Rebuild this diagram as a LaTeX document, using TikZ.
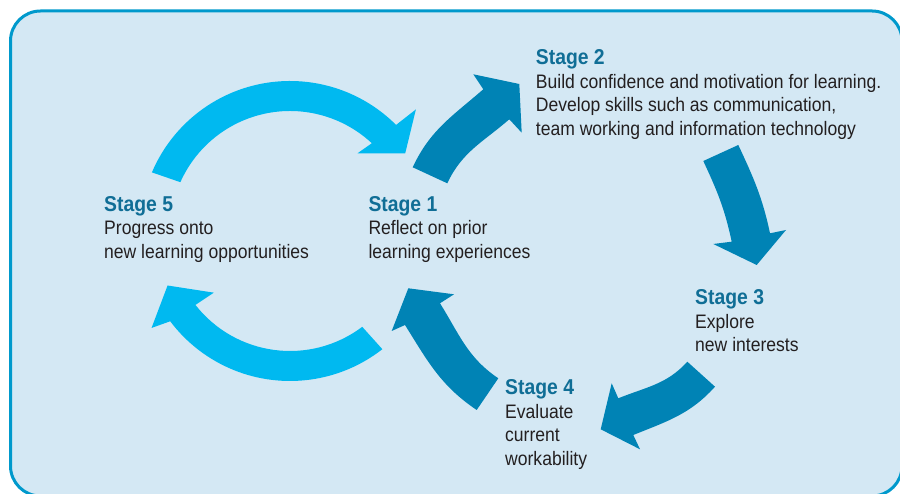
\documentclass[tikz,border=0pt]{standalone}
\usepackage{fontspec}
\setmainfont{Liberation Sans}[FakeStretch=0.9]
\usetikzlibrary{calc}

\definecolor{panelfill}{RGB}{212,232,244}
\definecolor{panelline}{RGB}{0,153,204}
\definecolor{cyclelight}{RGB}{0,185,240}
\definecolor{cycledark}{RGB}{0,131,181}
\definecolor{headblue}{RGB}{16,110,150}
\definecolor{bodygrey}{RGB}{35,31,32}

\tikzset{
  panel/.style={draw=panelline, line width=3pt, fill=panelfill, rounded corners=30pt},
  lightarrow/.style={fill=cyclelight},
  darkarrow/.style={fill=cycledark},
  stagetext/.style={anchor=north west, inner sep=0pt, align=left, text=bodygrey,
    font=\fontsize{19.5}{23.5}\selectfont}
}
\newcommand{\stagehead}[1]{{\fontsize{21.5}{23.5}\selectfont\bfseries\color{headblue}#1}}

\begin{document}
\begin{tikzpicture}[x=1pt,y=1pt]
  \useasboundingbox (0,0) rectangle (900,494);
  \begin{scope}
    \clip (0,0) rectangle (900,494);
    \draw[panel] (10.5,-2) rectangle (902,483);
  \end{scope}

  % outer loop: stage 5 and back
  \coordinate (loop5) at (290,263);
  \fill[lightarrow] (loop5) ++(157:150) arc[start angle=157, end angle=45, radius=150]
    -- ($(loop5)+(44:175)$) -- ($(loop5)+(34:139)$) -- ($(loop5)+(49:103)$)
    -- ($(loop5)+(47:120)$) arc[start angle=47, end angle=156, radius=120] -- cycle;
  \fill[lightarrow] (loop5) ++(308:150) arc[start angle=308, end angle=217, radius=150]
    -- ($(loop5)+(215:169)$) -- ($(loop5)+(204:134)$) -- ($(loop5)+(219:98)$)
    -- ($(loop5)+(218:120)$) arc[start angle=218, end angle=307, radius=120] -- cycle;

  % inner loop: stages 1 to 4
  \fill[darkarrow] (412.7,326.7) to[out=65, in=221] (483.3,404.7) -- (473.3,419.7)
    -- (519.3,410) -- (521.7,361.3) -- (509.3,374.7) to[out=221, in=65] (447.3,310.7) -- cycle;
  \fill[darkarrow] (738.3,349) to[out=-65, in=102] (770,260.7) -- (786,264)
    -- (756.7,229) -- (713.3,250) -- (731.7,252.3) to[out=102, in=-65] (703.3,333) -- cycle;
  \fill[darkarrow] (715,107.3) to[out=228, in=22] (633.3,59) -- (640,44.7)
    -- (600.7,64.7) -- (611.7,110.7) -- (618.3,95.7) to[out=22, in=228] (687.3,132.3) -- cycle;
  \fill[darkarrow] (476.7,84) to[out=146, in=-58] (405,169) -- (391.7,163)
    -- (408.3,205.7) -- (454,199.7) -- (440,190.7) to[out=-58, in=146] (498.3,115.7) -- cycle;

  \node[stagetext] (stage1) at (368.3,297.8)
    {\stagehead{Stage 1}\\Reflect on prior\\learning experiences};
  \node[stagetext] (stage2) at (535.7,444.5)
    {\stagehead{Stage 2}\\Build confidence and motivation for learning.\\Develop skills such as communication,\\team working and information technology};
  \node[stagetext] (stage3) at (695,204.5)
    {\stagehead{Stage 3}\\Explore\\new interests};
  \node[stagetext] (stage4) at (505,114.5)
    {\stagehead{Stage 4}\\Evaluate\\current\\workability};
  \node[stagetext] (stage5) at (104,297.8)
    {\stagehead{Stage 5}\\Progress onto\\new learning opportunities};
\end{tikzpicture}
\end{document}
